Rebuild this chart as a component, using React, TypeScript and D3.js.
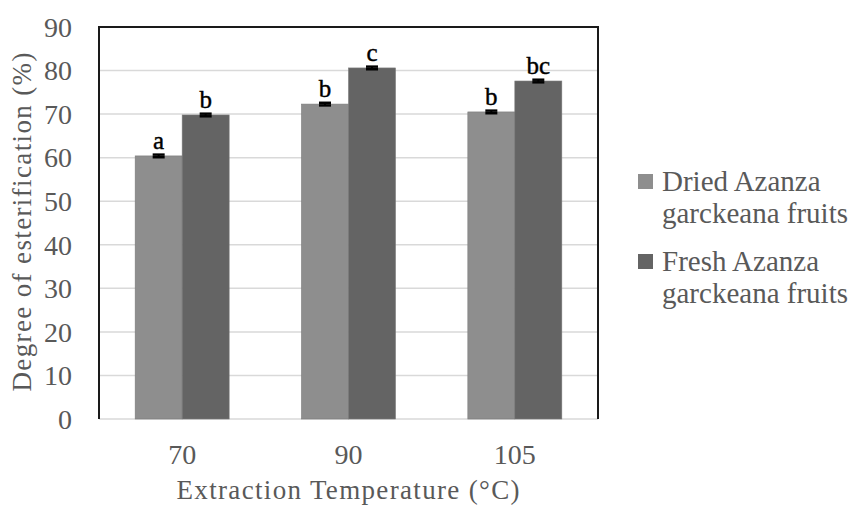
import { useRef, useEffect } from 'react';
import * as d3 from 'd3';

const temps = ['70', '90', '105'];
const seriesNames = ['Dried', 'Fresh'];
const legendLines = [
  ['Dried Azanza', 'garckeana fruits'],
  ['Fresh Azanza', 'garckeana fruits'],
];
const driedValues = [60.4, 72.3, 70.5];
const freshValues = [69.8, 80.6, 77.6];
const driedErrors = [0.3, 0.3, 0.3];
const freshErrors = [0.3, 0.3, 0.3];
const driedLetters = ['a', 'b', 'b'];
const freshLetters = ['b', 'c', 'bc'];
const yTicks = [0, 10, 20, 30, 40, 50, 60, 70, 80, 90];

const COLORS = { Dried: '#8e8e8e', Fresh: '#646464' };
const FONT = 'Liberation Serif, DejaVu Serif, serif';
const TEXT = '#595959';

export default function App() {
  const svgRef = useRef<SVGSVGElement | null>(null);

  useEffect(() => {
    if (!svgRef.current) return;
    const svg = d3.select(svgRef.current);
    svg.selectAll('*').remove();

    const left = 99, right = 598, top = 27, bottom = 419;

    const x = d3.scaleBand().domain(temps).range([left, right]).paddingInner(0.435).paddingOuter(0.2175);
    const xs = d3.scaleBand().domain(seriesNames).range([0, x.bandwidth()]);
    const y = d3.scaleLinear().domain([0, 90]).range([bottom, top]);

    // gridlines
    svg.append('g').selectAll('line')
      .data(yTicks)
      .enter().append('line')
      .attr('x1', left).attr('x2', right)
      .attr('y1', d => y(d)).attr('y2', d => y(d))
      .attr('stroke', '#d9d9d9').attr('stroke-width', 1.5);

    // y tick labels
    svg.append('g').selectAll('text')
      .data(yTicks)
      .enter().append('text')
      .attr('x', 72).attr('y', d => y(d)).attr('dy', '0.35em')
      .attr('text-anchor', 'end')
      .attr('fill', TEXT).attr('font-family', FONT).attr('font-size', 28)
      .text(d => d);

    // bars
    const rows = temps.map((t, i) => ([
      { t, s: 'Dried', v: driedValues[i], e: driedErrors[i], l: driedLetters[i] },
      { t, s: 'Fresh', v: freshValues[i], e: freshErrors[i], l: freshLetters[i] },
    ])).flat();

    const g = svg.append('g');
    g.selectAll('rect.bar')
      .data(rows)
      .enter().append('rect')
      .attr('class', 'bar')
      .attr('x', d => (x(d.t) as number) + (xs(d.s) as number))
      .attr('width', xs.bandwidth())
      .attr('y', d => y(d.v))
      .attr('height', d => y(0) - y(d.v))
      .attr('fill', d => COLORS[d.s as 'Dried' | 'Fresh'])
      .attr('stroke', '#7a7a7a').attr('stroke-width', 0.6);

    // error bars
    const cx = (d: any) => (x(d.t) as number) + (xs(d.s) as number) + xs.bandwidth() / 2;
    const eb = g.selectAll('g.err').data(rows).enter().append('g');
    eb.append('line')
      .attr('x1', cx).attr('x2', cx)
      .attr('y1', d => y(d.v + d.e)).attr('y2', d => y(d.v - d.e))
      .attr('stroke', '#000').attr('stroke-width', 2);
    [1, -1].forEach(sign => {
      eb.append('line')
        .attr('x1', d => cx(d) - 6).attr('x2', d => cx(d) + 6)
        .attr('y1', d => y(d.v + sign * d.e)).attr('y2', d => y(d.v + sign * d.e))
        .attr('stroke', '#000').attr('stroke-width', 2.5);
    });

    // significance letters
    g.selectAll('text.letter')
      .data(rows)
      .enter().append('text')
      .attr('x', cx).attr('y', d => y(d.v + d.e) - 6)
      .attr('text-anchor', 'middle')
      .attr('fill', '#000').attr('stroke', '#000').attr('stroke-width', 0.4)
      .attr('font-family', FONT).attr('font-size', 25)
      .text(d => d.l);

    // frame
    svg.append('path')
      .attr('d', `M${left},${bottom}V${top}H${right}V${bottom}`)
      .attr('fill', 'none').attr('stroke', '#1a1a1a').attr('stroke-width', 2);

    // x tick labels
    svg.append('g').selectAll('text')
      .data(temps)
      .enter().append('text')
      .attr('x', d => (x(d) as number) + x.bandwidth() / 2).attr('y', 464)
      .attr('text-anchor', 'middle')
      .attr('fill', TEXT).attr('font-family', FONT).attr('font-size', 28)
      .text(d => d);

    // axis titles
    svg.append('text')
      .attr('x', 348).attr('y', 499)
      .attr('text-anchor', 'middle')
      .attr('textLength', 343).attr('lengthAdjust', 'spacing')
      .attr('fill', TEXT).attr('font-family', FONT).attr('font-size', 27)
      .text('Extraction Temperature (\u00B0C)');

    svg.append('text')
      .attr('transform', 'translate(31,222) rotate(-90)')
      .attr('text-anchor', 'middle')
      .attr('textLength', 339).attr('lengthAdjust', 'spacing')
      .attr('fill', TEXT).attr('font-family', FONT).attr('font-size', 27)
      .text('Degree of esterification (%)');

    // legend
    const lg = svg.append('g').selectAll('g')
      .data(seriesNames)
      .enter().append('g')
      .attr('transform', (d, i) => `translate(638,${174 + i * 80})`);
    lg.append('rect')
      .attr('width', 15).attr('height', 15)
      .attr('fill', d => COLORS[d as 'Dried' | 'Fresh']);
    lg.each(function (d, i) {
      const sel = d3.select(this);
      legendLines[i].forEach((line, j) => {
        sel.append('text')
          .attr('x', 24).attr('y', 17 + j * 32)
          .attr('fill', TEXT).attr('font-family', FONT).attr('font-size', 29)
          .text(line);
      });
    });
  }, []);

  return (
    <svg ref={svgRef} width={858} height={507}
      style={{ position: 'absolute', left: 0, top: 0, background: '#fff' }} />
  );
}
